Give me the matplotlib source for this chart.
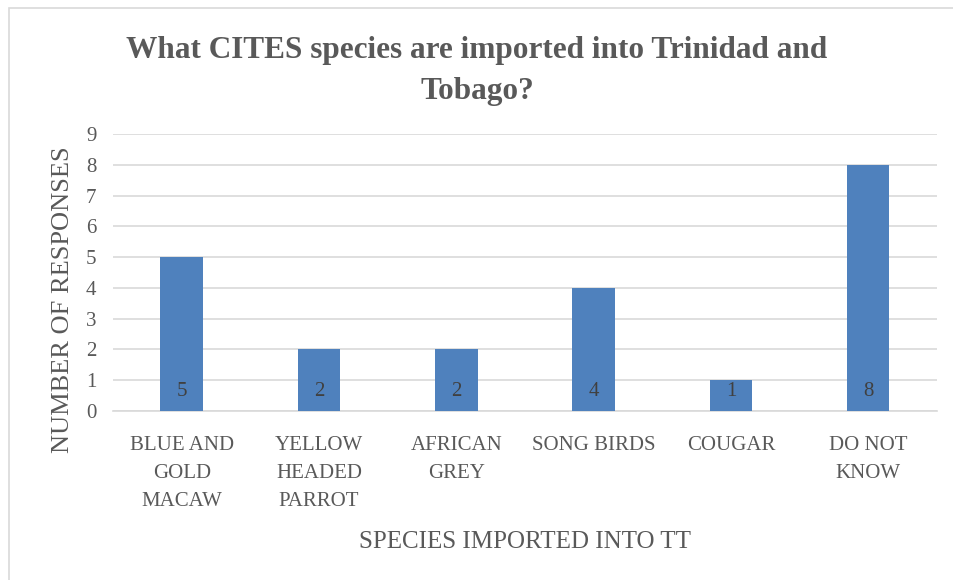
import numpy as np
import matplotlib.pyplot as plt
from matplotlib.patches import Rectangle

species = ['BLUE AND\nGOLD\nMACAW', 'YELLOW\nHEADED\nPARROT', 'AFRICAN\nGREY',
           'SONG BIRDS', 'COUGAR', 'DO NOT\nKNOW']
responses = [5, 2, 2, 4, 1, 8]
y_ticks = list(range(0, 10))

plt.rcParams['font.family'] = ['Liberation Serif', 'DejaVu Serif']
text_color = '#595959'
bar_color = '#4F81BD'
grid_color = '#D9D9D9'

fig = plt.figure(figsize=(9.54, 5.8), dpi=100)
ax = fig.add_axes([0.1185, 0.2914, 0.8635, 0.4776])

# light frame around the chart area
fig.patches.append(Rectangle((0.009, -0.05), 1.05, 1.036, transform=fig.transFigure,
                             fill=False, edgecolor='#D9D9D9', linewidth=1.2))

x = np.arange(len(species))
bars = ax.bar(x, responses, width=0.31, color=bar_color, zorder=3)

for xi, v in zip(x, responses):
    ax.annotate(str(v), (xi, 0), xytext=(0, 7), textcoords='offset points',
                ha='center', va='bottom', fontsize=15, color='#404040', zorder=4)

ax.set_xlim(-0.5, len(species) - 0.5)
ax.set_ylim(0, 9)
ax.set_yticks(y_ticks)
ax.set_xticks(x)
ax.set_xticklabels(species, fontsize=15, color=text_color, linespacing=1.65, va='top')
ax.tick_params(axis='y', labelsize=15, labelcolor=text_color, length=0, pad=12)
ax.tick_params(axis='x', length=0, pad=18)

ax.grid(axis='y', color=grid_color, linewidth=1.2, zorder=0)
for side in ['top', 'right', 'left']:
    ax.spines[side].set_visible(False)
ax.spines['bottom'].set_color(grid_color)
ax.spines['bottom'].set_linewidth(1.2)

ax.set_ylabel('NUMBER OF RESPONSES', fontsize=19, color=text_color)
ax.yaxis.set_label_coords(-0.048, 0.40)
ax.set_xlabel('SPECIES IMPORTED INTO TT', fontsize=18, color=text_color, labelpad=14)

fig.text(0.5, 0.878, 'What CITES species are imported into Trinidad and\nTobago?',
         ha='center', va='center', fontsize=22.5, fontweight='bold', color=text_color,
         linespacing=1.55)

fig.savefig('out.png', dpi=100)
